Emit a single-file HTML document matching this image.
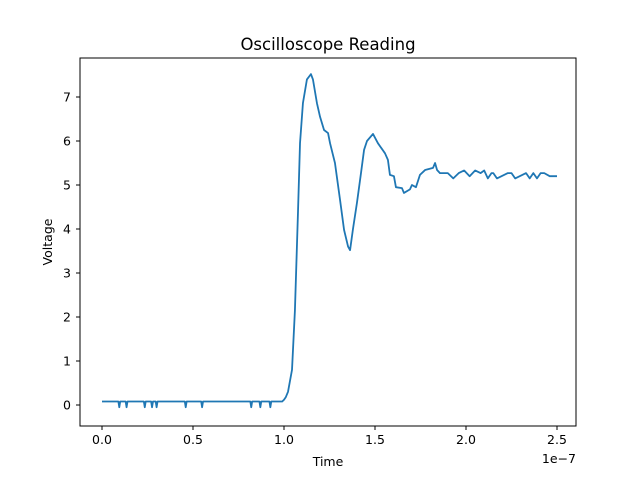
<!DOCTYPE html>
<html><head><meta charset="utf-8"><style>
body{margin:0;background:#fff}
svg{display:block;font-family:"DejaVu Sans","Liberation Sans",sans-serif}
</style></head><body>
<svg id="chart" width="640" height="478" viewBox="0 0 640 478" xmlns="http://www.w3.org/2000/svg">
<rect x="0" y="0" width="640" height="478" fill="#fff"/>
<text x="328" y="50" font-size="16.5" text-anchor="middle">Oscilloscope Reading</text>
<g id="plot"></g>
<rect x="80" y="58" width="496" height="368" fill="none" stroke="#000" stroke-width="1"/>
<text x="328" y="466" font-size="12.5" text-anchor="middle">Time</text>
<text transform="translate(52,242) rotate(-90)" font-size="12.5" text-anchor="middle">Voltage</text>
<text x="576" y="463" font-size="12.5" text-anchor="end">1e−7</text>
</svg>
<script>
const times=[0,0.9,0.95,1.0,1.3,1.35,1.4,2.3,2.35,2.4,2.7,2.75,2.8,2.95,3.0,3.05,4.55,4.6,4.65,5.45,5.5,5.55,8.15,8.2,8.25,8.65,8.7,8.75,9.2,9.25,9.3,9.9,10.0,10.1,10.22,10.44,10.6,10.77,10.88,11.04,11.26,11.48,11.59,11.81,11.98,12.2,12.42,12.53,12.8,13.08,13.3,13.52,13.63,13.79,14.01,14.23,14.4,14.56,14.89,15.16,15.55,15.71,15.82,16.04,16.15,16.48,16.59,16.92,17.03,17.25,17.47,17.75,18.19,18.3,18.41,18.57,19.0,19.3,19.6,19.9,20.2,20.5,20.8,21.0,21.2,21.4,21.5,21.7,22.3,22.5,22.7,23.3,23.5,23.7,23.9,24.1,24.3,24.6,25.0];
const volts=[0.08,0.08,-0.05,0.08,0.08,-0.05,0.08,0.08,-0.05,0.08,0.08,-0.05,0.08,0.08,-0.05,0.08,0.08,-0.05,0.08,0.08,-0.05,0.08,0.08,-0.05,0.08,0.08,-0.05,0.08,0.08,-0.05,0.08,0.08,0.12,0.18,0.3,0.8,2.15,4.4,5.95,6.86,7.4,7.52,7.4,6.86,6.55,6.25,6.18,5.95,5.5,4.66,3.98,3.6,3.52,4.0,4.6,5.27,5.8,6.0,6.16,5.95,5.72,5.57,5.23,5.2,4.95,4.93,4.82,4.9,5.0,4.95,5.23,5.34,5.39,5.5,5.34,5.27,5.27,5.15,5.27,5.33,5.2,5.33,5.27,5.33,5.15,5.27,5.27,5.15,5.27,5.27,5.15,5.27,5.15,5.27,5.15,5.27,5.27,5.2,5.2];
const xTicks=[0,0.5,1.0,1.5,2.0,2.5];
const xTickLabels=["0.0","0.5","1.0","1.5","2.0","2.5"];
const yTicks=[0,1,2,3,4,5,6,7];
const NS="http://www.w3.org/2000/svg";
const g=document.getElementById('plot');
function xs(t){return 102+(t/25)*(557-102);}
function ys(v){return 405-v*44;}
xTicks.forEach((tk,i)=>{
  const x=xs(tk*10);
  const l=document.createElementNS(NS,'line');
  
  
  l.setAttribute('x1',x);l.setAttribute('x2',x);l.setAttribute('y1',426);l.setAttribute('y2',430);l.setAttribute('stroke','#000');
  g.appendChild(l);
  const t=document.createElementNS(NS,'text');
  
  
  t.setAttribute('x',x);t.setAttribute('y',444);t.setAttribute('font-size','12.5');t.setAttribute('text-anchor','middle');
  t.textContent=xTickLabels[i];g.appendChild(t);
});
yTicks.forEach(v=>{
  const y=ys(v);
  const l=document.createElementNS(NS,'line');
  
  
  l.setAttribute('x1',76);l.setAttribute('x2',80);l.setAttribute('y1',y);l.setAttribute('y2',y);l.setAttribute('stroke','#000');
  g.appendChild(l);
  const t=document.createElementNS(NS,'text');
  
  
  t.setAttribute('x',71);t.setAttribute('y',y+4.5);t.setAttribute('font-size','12.5');t.setAttribute('text-anchor','end');
  t.textContent=String(v);g.appendChild(t);
});
const p=document.createElementNS(NS,'polyline');


p.setAttribute('points',times.map((t,i)=>xs(t)+','+ys(volts[i])).join(' '));
p.setAttribute('fill','none');p.setAttribute('stroke','#1f77b4');p.setAttribute('stroke-width','1.8');p.setAttribute('stroke-linejoin','round');
g.appendChild(p);
</script>
</body></html>
